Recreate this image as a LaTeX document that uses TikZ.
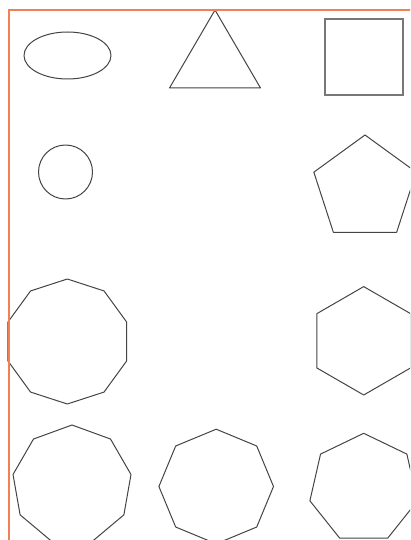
\documentclass[tikz,border=0pt]{standalone}
\definecolor{frameorange}{RGB}{240,128,88}
\definecolor{shapegray}{RGB}{68,68,68}
\definecolor{sqgray}{RGB}{120,120,120}
\begin{document}
\begin{tikzpicture}[x=1pt,y=-1pt,
  shapeline/.style={draw=shapegray, line width=1pt, line join=round},
  squareline/.style={draw=sqgray, line width=1.3pt, line join=miter},
  framelinestyle/.style={draw=frameorange, line width=1.6pt}]
\useasboundingbox (0,0) rectangle (410,540);
\begin{scope}
\clip (0,0) rectangle (410,540);
% ellipse
\draw[shapeline] (67.5,55.5) ellipse [x radius=43.5pt, y radius=23.5pt];
% triangle
\draw[shapeline] (215,10) -- (169.5,88) -- (260.5,88) -- cycle;
% square
\draw[squareline] (325,19) rectangle (403,95);
% circle
\draw[shapeline] (65.5,172) circle [radius=27pt];
% pentagon
\draw[shapeline] plot[samples=6, domain=0:360] ({365+53.8*sin(\x)}, {188.8-53.8*cos(\x)}) -- cycle;
% decagon
\draw[shapeline] plot[samples=11, domain=0:360] ({67.3+62.5*sin(\x)}, {341.5-62.5*cos(\x)}) -- cycle;
% hexagon
\draw[shapeline] plot[samples=7, domain=0:360] ({363.7+54.2*sin(\x)}, {340.8-54.2*cos(\x)}) -- cycle;
% nonagon
\draw[shapeline] plot[samples=10, domain=0:360] ({72+59.9*sin(\x)}, {484.9-59.9*cos(\x)}) -- cycle;
% octagon
\draw[shapeline] plot[samples=9, domain=0:360] ({216.2+57.3*sin(\x)}, {486.5-57.3*cos(\x)}) -- cycle;
% heptagon
\draw[shapeline] plot[samples=8, domain=0:360] ({363.7+55.2*sin(\x)}, {488.5-55.2*cos(\x)}) -- cycle;
% frame
\coordinate (fb) at (9,560);
\coordinate (fc) at (9,10);
\coordinate (fr) at (430,10);
\draw[framelinestyle] (fb) -- (fc) -- (fr);
\end{scope}
\end{tikzpicture}
\end{document}
